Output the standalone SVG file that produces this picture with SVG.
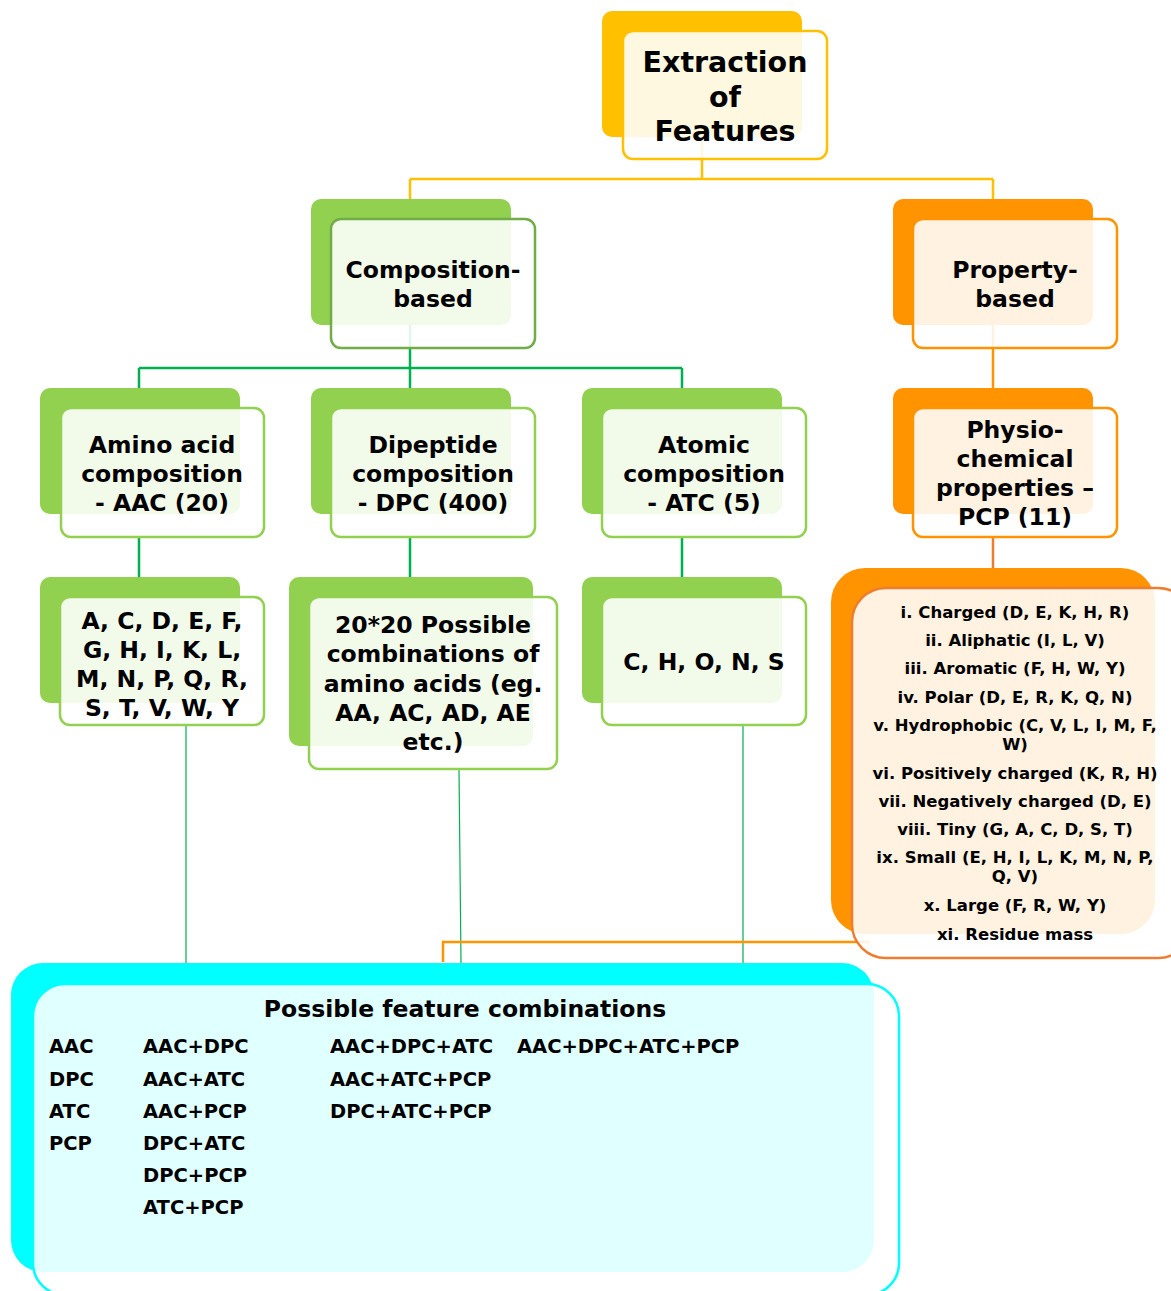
<svg xmlns="http://www.w3.org/2000/svg" width="1171" height="1291" viewBox="0 0 1171 1291">
<style>
text{font-family:"DejaVu Sans",Verdana,sans-serif;font-weight:bold;fill:#000}
.t28{font-size:28.5px;text-anchor:middle}
.t24{font-size:23.5px;text-anchor:middle}
.t16{font-size:16.5px;text-anchor:middle}
.t23{font-size:23.5px;text-anchor:middle}
.t19{font-size:19.5px}
.bkY{fill:#FFC000}
.bkG{fill:#92D050}
.bkO{fill:#FF9300}
.bkC{fill:#00FFFF}
.fr{fill:#FFFFFF;fill-opacity:0.88;stroke-width:2.5}
.sY{stroke:#FFC000}
.sG{stroke:#92D050}
.sDG{stroke:#70AD47}
.sO{stroke:#FF9300}
.sR{stroke:#ED7D31}
.sC{stroke:#00FFFF}
.ln{fill:none;stroke-width:2.5}
.thin{fill:none;stroke:#00B050;stroke-width:1.2}
</style>
<g id="connectors">
<path class="ln" stroke="#FFC000" d="M702 140 V179 M410 179 H993 M410 179 V199 M993 179 V199"/>
<path class="ln" stroke="#00B050" d="M410 300 V368 M139 368 H682 M139 368 V388 M410 368 V388 M682 368 V388"/>
<path class="ln" stroke="#FF9300" d="M993 300 V388"/>
<path class="ln" stroke="#00B050" d="M139 537 V577 M410 537 V577 M682 537 V577"/>
<path class="ln" stroke="#ED7D31" d="M993 537 V568"/>
<path class="thin" d="M186 725 V963 M459 770 L461 963 M743 725 V963"/>
<path class="ln" stroke="#FF9300" stroke-width="2" d="M443 962 V942 H870"/>
</g>
<g id="n-extraction">
<rect class="bkY" x="602" y="11" width="200" height="126" rx="10"/>
<rect class="fr sY" x="623" y="31" width="204" height="128" rx="10"/>
<text class="t28" x="725" y="72">Extraction</text>
<text class="t28" x="725" y="107">of</text>
<text class="t28" x="725" y="141">Features</text>
</g>
<g id="n-composition">
<rect class="bkG" x="311" y="199" width="200" height="126" rx="10"/>
<rect class="fr sDG" x="331" y="219" width="204" height="129" rx="10"/>
<text class="t24" x="433" y="278">Composition-</text>
<text class="t24" x="433" y="307">based</text>
</g>
<g id="n-property">
<rect class="bkO" x="893" y="199" width="200" height="126" rx="10"/>
<rect class="fr sO" x="913" y="219" width="204" height="129" rx="10"/>
<text class="t24" x="1015" y="278">Property-</text>
<text class="t24" x="1015" y="307">based</text>
</g>
<g id="n-aac">
<rect class="bkG" x="40" y="388" width="200" height="126" rx="10"/>
<rect class="fr sG" x="61" y="408" width="203" height="129" rx="10"/>
<text class="t24" x="162" y="453">Amino acid</text>
<text class="t24" x="162" y="482">composition</text>
<text class="t24" x="162" y="511">- AAC (20)</text>
</g>
<g id="n-dpc">
<rect class="bkG" x="311" y="388" width="200" height="126" rx="10"/>
<rect class="fr sG" x="331" y="408" width="204" height="129" rx="10"/>
<text class="t24" x="433" y="453">Dipeptide</text>
<text class="t24" x="433" y="482">composition</text>
<text class="t24" x="433" y="511">- DPC (400)</text>
</g>
<g id="n-atc">
<rect class="bkG" x="582" y="388" width="200" height="126" rx="10"/>
<rect class="fr sG" x="602" y="408" width="204" height="129" rx="10"/>
<text class="t24" x="704" y="453">Atomic</text>
<text class="t24" x="704" y="482">composition</text>
<text class="t24" x="704" y="511">- ATC (5)</text>
</g>
<g id="n-pcp">
<rect class="bkO" x="893" y="388" width="200" height="126" rx="10"/>
<rect class="fr sO" x="913" y="408" width="204" height="129" rx="10"/>
<text class="t24" x="1015" y="438">Physio-</text>
<text class="t24" x="1015" y="467">chemical</text>
<text class="t24" x="1015" y="496">properties –</text>
<text class="t24" x="1015" y="525">PCP (11)</text>
</g>
<g id="n-letters">
<rect class="bkG" x="40" y="577" width="200" height="126" rx="10"/>
<rect class="fr sG" x="60" y="597" width="204" height="128" rx="10"/>
<text class="t24" x="162" y="629">A, C, D, E, F,</text>
<text class="t24" x="162" y="658">G, H, I, K, L,</text>
<text class="t24" x="162" y="687">M, N, P, Q, R,</text>
<text class="t24" x="162" y="716">S, T, V, W, Y</text>
</g>
<g id="n-pairs">
<rect class="bkG" x="289" y="577" width="244" height="169" rx="10"/>
<rect class="fr sG" x="309" y="597" width="248" height="172" rx="10"/>
<text class="t24" x="433" y="633">20*20 Possible</text>
<text class="t24" x="433" y="662">combinations of</text>
<text class="t24" x="433" y="692">amino acids (eg.</text>
<text class="t24" x="433" y="721">AA, AC, AD, AE</text>
<text class="t24" x="433" y="750">etc.)</text>
</g>
<g id="n-atoms">
<rect class="bkG" x="582" y="577" width="200" height="126" rx="10"/>
<rect class="fr sG" x="602" y="597" width="204" height="128" rx="10"/>
<text class="t24" x="704" y="670">C, H, O, N, S</text>
</g>
<g id="n-pcplist">
<rect class="bkO" x="831" y="568" width="324" height="366" rx="34"/>
<rect class="fr sR" x="852" y="588" width="340" height="370" rx="34"/>
<text class="t16" x="1015" y="618">i. Charged (D, E, K, H, R)</text>
<text class="t16" x="1015" y="646">ii. Aliphatic (I, L, V)</text>
<text class="t16" x="1015" y="674">iii. Aromatic (F, H, W, Y)</text>
<text class="t16" x="1015" y="703">iv. Polar (D, E, R, K, Q, N)</text>
<text class="t16" x="1015" y="731">v. Hydrophobic (C, V, L, I, M, F,</text>
<text class="t16" x="1015" y="750">W)</text>
<text class="t16" x="1015" y="779">vi. Positively charged (K, R, H)</text>
<text class="t16" x="1015" y="807">vii. Negatively charged (D, E)</text>
<text class="t16" x="1015" y="835">viii. Tiny (G, A, C, D, S, T)</text>
<text class="t16" x="1015" y="863">ix. Small (E, H, I, L, K, M, N, P,</text>
<text class="t16" x="1015" y="882">Q, V)</text>
<text class="t16" x="1015" y="911">x. Large (F, R, W, Y)</text>
<text class="t16" x="1015" y="940">xi. Residue mass</text>
</g>
<g id="n-combinations">
<rect class="bkC" x="11" y="963" width="863" height="309" rx="32"/>
<rect class="fr sC" x="33" y="984" width="866" height="311" rx="32"/>
<text class="t23" x="465" y="1017">Possible feature combinations</text>
<text class="t19" x="49" y="1053">AAC</text>
<text class="t19" x="49" y="1086">DPC</text>
<text class="t19" x="49" y="1118">ATC</text>
<text class="t19" x="49" y="1150">PCP</text>
<text class="t19" x="143" y="1053">AAC+DPC</text>
<text class="t19" x="143" y="1086">AAC+ATC</text>
<text class="t19" x="143" y="1118">AAC+PCP</text>
<text class="t19" x="143" y="1150">DPC+ATC</text>
<text class="t19" x="143" y="1182">DPC+PCP</text>
<text class="t19" x="143" y="1214">ATC+PCP</text>
<text class="t19" x="330" y="1053">AAC+DPC+ATC</text>
<text class="t19" x="330" y="1086">AAC+ATC+PCP</text>
<text class="t19" x="330" y="1118">DPC+ATC+PCP</text>
<text class="t19" x="517" y="1053">AAC+DPC+ATC+PCP</text>
</g>
</svg>
